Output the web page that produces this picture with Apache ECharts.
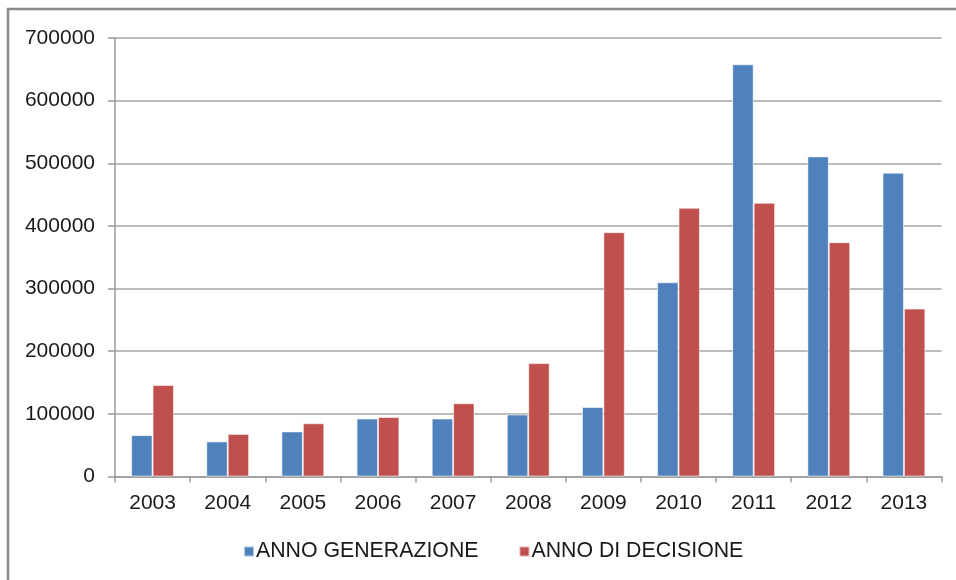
<!DOCTYPE html>
<html>
<head>
<meta charset="utf-8">
<script src="https://cdn.jsdelivr.net/npm/echarts@6/dist/echarts.min.js"></script>
<style>
html,body{margin:0;padding:0;background:#fff;}
#chart{width:956px;height:580px;}
</style>
</head>
<body>
<div id="chart"></div>
<script>
const categories = ['2003','2004','2005','2006','2007','2008','2009','2010','2011','2012','2013'];
const annoGenerazione = [66000, 56000, 72000, 92500, 92500, 99000, 111000, 310000, 658000, 511000, 485000];
const annoDecisione = [146000, 68000, 85000, 95000, 117000, 181000, 390000, 429000, 437000, 374000, 268000];
const seriesNames = ['ANNO GENERAZIONE', 'ANNO DI DECISIONE'];
const yMin = 0, yMax = 700000, yStep = 100000;

const chart = echarts.init(document.getElementById('chart'), null, {renderer: 'canvas'});
const fontFamily = '"Liberation Sans", Arial, sans-serif';
const axisGray = '#9a9a9a';
chart.setOption({
  animation: false,
  backgroundColor: '#fff',
  graphic: [{
    type: 'rect',
    shape: {x: 8, y: 9, width: 1000, height: 1000},
    style: {fill: 'none', stroke: '#8a8a8a', lineWidth: 2.5},
    silent: true,
    z: 100
  }],
  grid: {left: 115, right: 14.5, top: 38, bottom: 103.5, containLabel: false},
  legend: {
    left: 238,
    top: 536,
    icon: 'rect',
    itemWidth: 10,
    itemHeight: 10,
    itemGap: 40,
    textStyle: {fontFamily: fontFamily, fontSize: 21.3, color: '#1a1a1a', padding: [0, 0, 0, -3]},
    data: seriesNames
  },
  xAxis: {
    type: 'category',
    data: categories,
    axisLine: {show: true, lineStyle: {color: axisGray, width: 1.5}},
    axisTick: {show: true, length: 6, lineStyle: {color: axisGray, width: 1.5}},
    axisLabel: {fontFamily: fontFamily, fontSize: 21, color: '#1a1a1a', margin: 16}
  },
  yAxis: {
    type: 'value',
    min: yMin,
    max: yMax,
    interval: yStep,
    axisLine: {show: true, lineStyle: {color: axisGray, width: 1.5}},
    axisTick: {show: true, length: 7, lineStyle: {color: axisGray, width: 1.5}},
    splitLine: {show: true, lineStyle: {color: '#a6a6a6', width: 1.5}},
    axisLabel: {fontFamily: fontFamily, fontSize: 21, color: '#1a1a1a', margin: 20, formatter: function (v) { return String(v); }}
  },
  series: [
    {
      name: seriesNames[0],
      type: 'bar',
      data: annoGenerazione,
      barGap: '0%',
      barCategoryGap: '43%',
      itemStyle: {color: '#4f81bd', borderColor: 'rgba(255,255,255,0.55)', borderWidth: 1}
    },
    {
      name: seriesNames[1],
      type: 'bar',
      data: annoDecisione,
      barGap: '0%',
      barCategoryGap: '43%',
      itemStyle: {color: '#c0504d', borderColor: 'rgba(255,255,255,0.55)', borderWidth: 1}
    }
  ]
});
</script>
</body>
</html>
